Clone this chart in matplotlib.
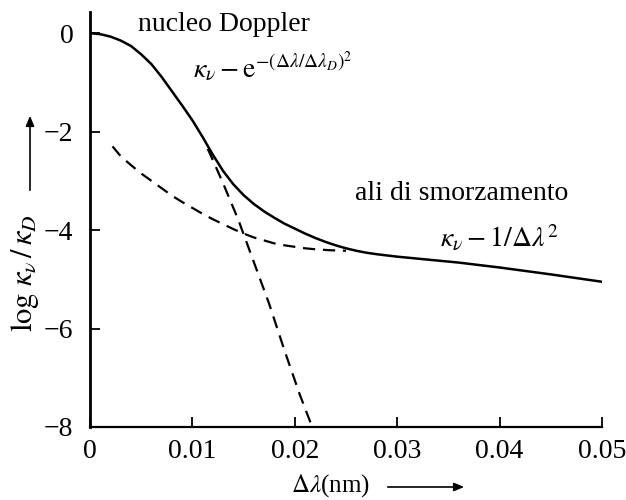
import numpy as np
import matplotlib
matplotlib.use("Agg")
import matplotlib.pyplot as plt

# curves (x in nm, y = log kappa_nu / kappa_D)
x_total = [0.0, 0.001, 0.002, 0.003, 0.004, 0.005, 0.006, 0.007, 0.008, 0.009,
           0.010, 0.011, 0.012, 0.013, 0.014, 0.015, 0.016, 0.017, 0.018,
           0.019, 0.020, 0.021, 0.022, 0.023, 0.024, 0.025, 0.026, 0.027,
           0.028, 0.030, 0.032, 0.036, 0.040, 0.045, 0.050]
y_total = [0.0, -0.02, -0.07, -0.15, -0.26, -0.43, -0.63, -0.89, -1.18, -1.47,
           -1.77, -2.11, -2.47, -2.80, -3.07, -3.29, -3.47, -3.62, -3.75,
           -3.87, -3.97, -4.07, -4.16, -4.24, -4.31, -4.37, -4.42, -4.46,
           -4.49, -4.54, -4.58, -4.66, -4.76, -4.90, -5.05]

x_doppler = [0.0115, 0.012, 0.013, 0.0145, 0.016, 0.0175, 0.019, 0.0205, 0.0217]
y_doppler = [-2.35, -2.58, -3.05, -3.80, -4.65, -5.50, -6.45, -7.35, -8.0]

x_damping = [0.0022, 0.003, 0.004, 0.005, 0.006, 0.007, 0.008, 0.009, 0.010,
             0.011, 0.012, 0.013, 0.014, 0.015, 0.016, 0.017, 0.018, 0.019,
             0.020, 0.021, 0.022, 0.0235, 0.025]
y_damping = [-2.30, -2.50, -2.68, -2.85, -3.00, -3.15, -3.30, -3.43, -3.55,
             -3.67, -3.78, -3.88, -3.98, -4.07, -4.15, -4.21, -4.27, -4.31,
             -4.34, -4.37, -4.39, -4.41, -4.42]

x_ticks = [0, 0.01, 0.02, 0.03, 0.04, 0.05]
x_ticklabels = ["0", "0.01", "0.02", "0.03", "0.04", "0.05"]
y_ticks = [0, -2, -4, -6, -8]

plt.rcParams["font.family"] = ["Liberation Serif", "DejaVu Serif"]
plt.rcParams["mathtext.fontset"] = "stix"

fig = plt.figure(figsize=(6.26, 5.0), dpi=100)
ax = fig.add_axes([90 / 626, 73 / 500, 512 / 626, 415 / 500])

ax.plot(x_total, y_total, color="black", lw=1.8, solid_joinstyle="round")
ax.plot(x_doppler, y_doppler, color="black", lw=1.6, dashes=(5.5, 3.5))
ax.plot(x_damping, y_damping, color="black", lw=1.6, dashes=(5.5, 3.5))

ax.set_xlim(0, 0.05)
ax.set_ylim(-8, 0.43)
ax.spines["top"].set_visible(False)
ax.spines["right"].set_visible(False)
ax.spines["left"].set_linewidth(2.0)
ax.spines["bottom"].set_linewidth(1.6)

ax.set_xticks(x_ticks)
ax.set_xticklabels(x_ticklabels)
ax.set_yticks(y_ticks)
ax.tick_params(axis="both", direction="in", length=7, width=1.3, labelsize=20)
ax.tick_params(axis="x", pad=9)
ax.tick_params(axis="y", pad=12)

ax.set_xlabel(r"$\Delta\lambda$(nm)", fontsize=18)
ax.xaxis.set_label_coords(0.469, -0.108)
ax.set_ylabel(r"$\log\,\kappa_\nu\,/\,\kappa_D$", fontsize=22)
ax.yaxis.set_label_coords(-0.095, 0.37)

# arrows next to the axis labels
fig.patches.append(matplotlib.patches.FancyArrowPatch(
    (385 / 626, 13 / 500), (467 / 626, 13 / 500), transform=fig.transFigure,
    arrowstyle="-|>,head_length=6,head_width=2.5", color="black", lw=1.2))
fig.patches.append(matplotlib.patches.FancyArrowPatch(
    (30 / 626, 307 / 500), (30 / 626, 387 / 500), transform=fig.transFigure,
    arrowstyle="-|>,head_length=6,head_width=2.5", color="black", lw=1.2))

ax.text(0.00469, 0.18, "nucleo Doppler", fontsize=20, va="center", ha="left")
ax.text(0.01006, -0.91, r"$\kappa_\nu - \mathrm{e}^{-(\Delta\lambda/\Delta\lambda_D)^2}$",
        fontsize=20, va="baseline", ha="left")
ax.text(0.0259, -3.25, "ali di smorzamento", fontsize=20, va="center", ha="left")
ax.text(0.0342, -4.36, r"$\kappa_\nu - 1/\Delta\lambda^2$",
        fontsize=20, va="baseline", ha="left")

fig.savefig("out.png", dpi=100)
